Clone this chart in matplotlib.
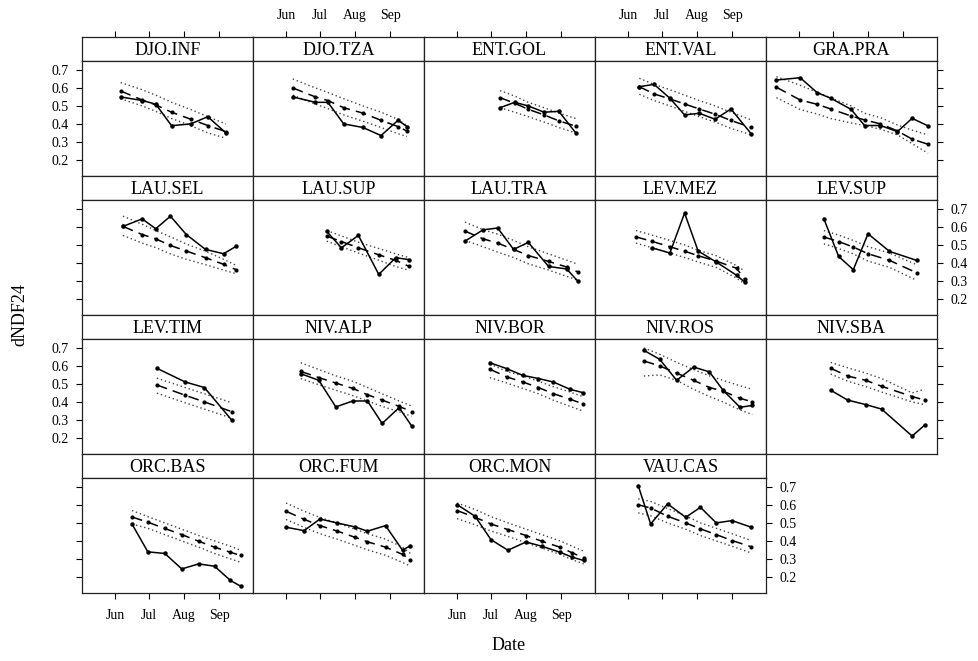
import matplotlib
matplotlib.use("Agg")
import matplotlib.pyplot as plt
import numpy as np
import pandas as pd

plt.rcParams['font.family'] = ['Liberation Serif', 'DejaVu Serif']

# ---- data (site panels, lattice style) ----
sites = ['DJO.INF', 'DJO.TZA', 'ENT.GOL', 'ENT.VAL', 'GRA.PRA',
         'LAU.SEL', 'LAU.SUP', 'LAU.TRA', 'LEV.MEZ', 'LEV.SUP',
         'LEV.TIM', 'NIV.ALP', 'NIV.BOR', 'NIV.ROS', 'NIV.SBA',
         'ORC.BAS', 'ORC.FUM', 'ORC.MON', 'VAU.CAS']

dates = {
    'DJO.INF': ['06-06', '06-25', '07-07', '07-21', '08-07', '08-22', '09-07'],
    'DJO.TZA': ['06-07', '06-27', '07-08', '07-22', '08-08', '08-24', '09-08', '09-16'],
    'ENT.GOL': ['07-09', '07-22', '08-03', '08-17', '08-30', '09-14'],
    'ENT.VAL': ['06-11', '06-24', '07-08', '07-21', '08-03', '08-17', '08-31', '09-18'],
    'GRA.PRA': ['05-12', '06-02', '06-17', '06-29', '07-17', '07-29', '08-12', '08-27', '09-09', '09-23'],
    'LAU.SEL': ['06-08', '06-25', '07-07', '07-20', '08-03', '08-20', '09-05', '09-16'],
    'LAU.SUP': ['07-07', '07-20', '08-04', '08-22', '09-06', '09-18'],
    'LAU.TRA': ['06-08', '06-24', '07-07', '07-21', '08-03', '08-21', '09-06', '09-16'],
    'LEV.MEZ': ['06-08', '06-22', '07-08', '07-21', '08-02', '08-18', '09-05', '09-12'],
    'LEV.SUP': ['06-23', '07-06', '07-19', '08-01', '08-20', '09-13'],
    'LEV.TIM': ['07-08', '08-02', '08-19', '09-12'],
    'NIV.ALP': ['06-14', '06-30', '07-15', '07-30', '08-12', '08-25', '09-09', '09-20'],
    'NIV.BOR': ['06-30', '07-15', '07-29', '08-12', '08-25', '09-09', '09-20'],
    'NIV.ROS': ['06-15', '06-29', '07-14', '07-29', '08-12', '08-24', '09-08', '09-19'],
    'NIV.SBA': ['06-29', '07-14', '07-30', '08-13', '09-09', '09-20'],
    'ORC.BAS': ['06-16', '06-30', '07-15', '07-30', '08-14', '08-28', '09-11', '09-20'],
    'ORC.FUM': ['06-01', '06-17', '07-01', '07-16', '08-01', '08-12', '08-28', '09-12', '09-19'],
    'ORC.MON': ['06-01', '06-17', '07-01', '07-16', '08-01', '08-15', '08-31', '09-11', '09-21'],
    'VAU.CAS': ['06-10', '06-21', '07-06', '07-22', '08-04', '08-18', '09-01', '09-18'],
}

observed = {
    'DJO.INF': [0.55, 0.53, 0.51, 0.39, 0.40, 0.44, 0.35],
    'DJO.TZA': [0.55, 0.52, 0.52, 0.40, 0.38, 0.335, 0.42, 0.385],
    'ENT.GOL': [0.49, 0.52, 0.50, 0.465, 0.47, 0.35],
    'ENT.VAL': [0.607, 0.62, 0.543, 0.45, 0.459, 0.426, 0.483, 0.344],
    'GRA.PRA': [0.644, 0.657, 0.574, 0.543, 0.481, 0.391, 0.391, 0.357, 0.431, 0.389],
    'LAU.SEL': [0.603, 0.645, 0.59, 0.66, 0.558, 0.475, 0.451, 0.492],
    'LAU.SUP': [0.575, 0.484, 0.553, 0.336, 0.429, 0.418],
    'LAU.TRA': [0.521, 0.584, 0.594, 0.475, 0.514, 0.38, 0.366, 0.297],
    'LEV.MEZ': [np.nan, 0.484, 0.455, 0.677, 0.466, 0.405, 0.331, 0.294],
    'LEV.SUP': [0.645, 0.436, 0.362, 0.562, 0.464, 0.414],
    'LEV.TIM': [0.587, 0.511, 0.48, 0.30],
    'NIV.ALP': [0.557, 0.52, 0.372, 0.405, 0.405, 0.28, 0.368, 0.267],
    'NIV.BOR': [0.618, 0.585, 0.548, 0.53, 0.511, 0.47, 0.452],
    'NIV.ROS': [0.687, 0.637, 0.52, 0.594, 0.567, 0.465, 0.37, 0.38],
    'NIV.SBA': [0.465, 0.41, 0.385, 0.36, 0.21, 0.27],
    'ORC.BAS': [0.494, 0.339, 0.33, 0.244, 0.272, 0.259, 0.18, 0.148],
    'ORC.FUM': [0.476, 0.457, 0.522, 0.50, 0.478, 0.454, 0.485, 0.348, 0.374],
    'ORC.MON': [0.602, 0.537, 0.407, 0.348, 0.394, 0.37, 0.337, 0.309, 0.291],
    'VAU.CAS': [0.708, 0.494, 0.606, 0.531, 0.587, 0.50, 0.513, 0.476],
}

fitted = {
    'DJO.INF': [0.583, 0.533, 0.506, 0.465, 0.426, 0.391, 0.357],
    'DJO.TZA': [0.60, 0.55, 0.53, 0.49, 0.46, 0.42, 0.385, 0.36],
    'ENT.GOL': [0.546, 0.515, 0.481, 0.45, 0.417, 0.387],
    'ENT.VAL': [0.607, 0.567, 0.539, 0.511, 0.483, 0.454, 0.419, 0.38],
    'GRA.PRA': [0.604, 0.533, 0.509, 0.483, 0.444, 0.422, 0.40, 0.361, 0.315, 0.287],
    'LAU.SEL': [0.603, 0.558, 0.534, 0.497, 0.466, 0.429, 0.392, 0.362],
    'LAU.SUP': [0.549, 0.519, 0.484, 0.445, 0.414, 0.38],
    'LAU.TRA': [0.577, 0.534, 0.51, 0.475, 0.441, 0.408, 0.377, 0.349],
    'LEV.MEZ': [0.545, 0.52, 0.49, 0.465, 0.44, 0.41, 0.37, 0.31],
    'LEV.SUP': [0.544, 0.519, 0.488, 0.451, 0.414, 0.345],
    'LEV.TIM': [0.494, 0.437, 0.40, 0.346],
    'NIV.ALP': [0.57, 0.535, 0.505, 0.475, 0.44, 0.41, 0.375, 0.346],
    'NIV.BOR': [0.582, 0.539, 0.511, 0.48, 0.446, 0.415, 0.39],
    'NIV.ROS': [0.628, 0.60, 0.56, 0.52, 0.48, 0.46, 0.42, 0.40],
    'NIV.SBA': [0.587, 0.544, 0.52, 0.487, 0.43, 0.41],
    'ORC.BAS': [0.533, 0.504, 0.469, 0.435, 0.398, 0.365, 0.337, 0.319],
    'ORC.FUM': [0.565, 0.52, 0.485, 0.455, 0.42, 0.395, 0.365, 0.325, 0.295],
    'ORC.MON': [0.569, 0.531, 0.494, 0.463, 0.43, 0.398, 0.365, 0.333, 0.306],
    'VAU.CAS': [0.601, 0.583, 0.537, 0.50, 0.467, 0.435, 0.402, 0.367],
}

upper = {
    'DJO.INF': [0.63, 0.59, 0.56, 0.52, 0.48, 0.44, 0.40],
    'DJO.TZA': [0.65, 0.60, 0.575, 0.54, 0.50, 0.465, 0.425, 0.39],
    'ENT.GOL': [0.585, 0.555, 0.52, 0.49, 0.46, 0.43],
    'ENT.VAL': [0.654, 0.62, 0.59, 0.56, 0.53, 0.50, 0.465, 0.422],
    'GRA.PRA': [0.663, 0.615, 0.576, 0.545, 0.50, 0.459, 0.435, 0.394, 0.365, 0.339],
    'LAU.SEL': [0.66, 0.615, 0.58, 0.545, 0.505, 0.465, 0.42, 0.386],
    'LAU.SUP': [0.58, 0.55, 0.515, 0.48, 0.45, 0.429],
    'LAU.TRA': [0.627, 0.585, 0.56, 0.525, 0.49, 0.45, 0.415, 0.392],
    'LEV.MEZ': [0.58, 0.555, 0.525, 0.50, 0.47, 0.44, 0.385, 0.355],
    'LEV.SUP': [0.58, 0.555, 0.525, 0.49, 0.455, 0.39],
    'LEV.TIM': [0.532, 0.48, 0.445, 0.396],
    'NIV.ALP': [0.618, 0.58, 0.545, 0.515, 0.48, 0.445, 0.405, 0.377],
    'NIV.BOR': [0.61, 0.57, 0.545, 0.515, 0.485, 0.455, 0.43],
    'NIV.ROS': [0.70, 0.665, 0.62, 0.58, 0.545, 0.52, 0.49, 0.47],
    'NIV.SBA': [0.62, 0.59, 0.56, 0.53, 0.45, 0.47],
    'ORC.BAS': [0.569, 0.535, 0.50, 0.465, 0.43, 0.40, 0.37, 0.348],
    'ORC.FUM': [0.611, 0.565, 0.53, 0.50, 0.465, 0.44, 0.41, 0.365, 0.33],
    'ORC.MON': [0.611, 0.575, 0.535, 0.50, 0.465, 0.435, 0.40, 0.37, 0.343],
    'VAU.CAS': [0.634, 0.62, 0.58, 0.54, 0.50, 0.47, 0.44, 0.402],
}

lower = {
    'DJO.INF': [0.54, 0.50, 0.47, 0.43, 0.39, 0.35, 0.32],
    'DJO.TZA': [0.56, 0.51, 0.485, 0.45, 0.415, 0.38, 0.345, 0.33],
    'ENT.GOL': [0.49, 0.465, 0.44, 0.41, 0.38, 0.35],
    'ENT.VAL': [0.565, 0.53, 0.50, 0.47, 0.44, 0.41, 0.375, 0.339],
    'GRA.PRA': [0.546, 0.48, 0.455, 0.43, 0.405, 0.391, 0.37, 0.339, 0.29, 0.237],
    'LAU.SEL': [0.553, 0.51, 0.485, 0.45, 0.42, 0.39, 0.36, 0.34],
    'LAU.SUP': [0.521, 0.49, 0.455, 0.415, 0.38, 0.358],
    'LAU.TRA': [0.525, 0.49, 0.46, 0.43, 0.395, 0.36, 0.325, 0.303],
    'LEV.MEZ': [0.51, 0.485, 0.455, 0.43, 0.405, 0.375, 0.315, 0.284],
    'LEV.SUP': [0.506, 0.48, 0.45, 0.41, 0.375, 0.303],
    'LEV.TIM': [0.449, 0.395, 0.36, 0.31],
    'NIV.ALP': [0.53, 0.495, 0.465, 0.435, 0.405, 0.375, 0.345, 0.32],
    'NIV.BOR': [0.535, 0.505, 0.475, 0.445, 0.41, 0.375, 0.35],
    'NIV.ROS': [0.544, 0.55, 0.52, 0.47, 0.43, 0.40, 0.355, 0.33],
    'NIV.SBA': [0.555, 0.515, 0.485, 0.455, 0.40, 0.385],
    'ORC.BAS': [0.494, 0.47, 0.435, 0.40, 0.365, 0.33, 0.30, 0.281],
    'ORC.FUM': [0.519, 0.475, 0.44, 0.41, 0.375, 0.35, 0.32, 0.28, 0.259],
    'ORC.MON': [0.524, 0.49, 0.455, 0.425, 0.39, 0.36, 0.325, 0.295, 0.272],
    'VAU.CAS': [0.556, 0.54, 0.50, 0.465, 0.43, 0.40, 0.37, 0.333],
}

month_ticks = ['06-01', '07-01', '08-01', '09-01']
month_labels = ['Jun', 'Jul', 'Aug', 'Sep']
y_ticks = [0.2, 0.3, 0.4, 0.5, 0.6, 0.7]


def doy(mmdd):
    # day of year in a non-leap year
    return pd.to_datetime(['2011-' + s for s in mmdd]).dayofyear.values.astype(float)


W, H = 979, 661
fig = plt.figure(figsize=(W / 100, H / 100), dpi=100)


def add_px_axes(x0, y0, w, h):
    return fig.add_axes([x0 / W, 1 - (y0 + h) / H, w / W, h / H])


xlim = (122.8, 274.0)
ylim = (0.11, 0.75)
col_w, strip_h, panel_h, pitch = 171, 24, 115, 139
left0, top0 = 82, 61
frame_c = '#222222'
tick_len = 4.5
n_rows = 4

for idx, name in enumerate(sites):
    r, c = divmod(idx, 5)
    x0 = left0 + col_w * c
    ptop = top0 + pitch * r

    # strip
    sax = add_px_axes(x0, ptop - strip_h, col_w, strip_h)
    sax.set_xlim(*xlim)
    sax.set_ylim(0, 1)
    sax.text(0.5, 0.45, name, ha='center', va='center', fontsize=13,
             transform=sax.transAxes)
    sax.set_yticks([])
    if r == 0:
        sax.set_xticks(doy(month_ticks))
        sax.set_xticklabels(month_labels)
        sax.tick_params(axis='x', top=True, bottom=False, labeltop=(c % 2 == 1),
                        labelbottom=False, direction='out', length=tick_len,
                        width=0.8, labelsize=10, pad=6)
    else:
        sax.set_xticks([])
    for s in sax.spines.values():
        s.set_color(frame_c)
        s.set_linewidth(0.9)

    # panel
    ax = add_px_axes(x0, ptop, col_w, panel_h)
    x = doy(dates[name])
    ax.plot(x, upper[name], color='#444444', ls=(0, (1, 2)), lw=1.0)
    ax.plot(x, lower[name], color='#444444', ls=(0, (1, 2)), lw=1.0)
    ax.plot(x, fitted[name], color='black', ls=(0, (7, 4)), lw=1.1,
            marker='o', ms=2.0)
    ax.plot(x, observed[name], color='black', ls='-', lw=1.1,
            marker='o', ms=2.2)
    ax.set_xlim(*xlim)
    ax.set_ylim(*ylim)

    last_in_row = (c == 4) or (idx == len(sites) - 1)
    ax.set_yticks(y_ticks)
    ax.set_yticklabels([f'{v:.1f}' for v in y_ticks])
    ax.tick_params(axis='y', left=(c == 0), labelleft=(c == 0 and r % 2 == 0),
                   right=last_in_row, labelright=(last_in_row and r % 2 == 1),
                   direction='out', length=tick_len, width=0.8, labelsize=10, pad=5)

    bottom_row = (r == n_rows - 1)
    ax.set_xticks(doy(month_ticks))
    ax.set_xticklabels(month_labels)
    ax.tick_params(axis='x', bottom=bottom_row, labelbottom=(bottom_row and c % 2 == 0),
                   top=False, labeltop=False, direction='out', length=tick_len,
                   width=0.8, labelsize=10, pad=7)
    for s in ax.spines.values():
        s.set_color(frame_c)
        s.set_linewidth(0.9)

fig.text(509 / W, 1 - 645 / H, 'Date', ha='center', va='center', fontsize=13)
fig.text(20 / W, 1 - 315 / H, 'dNDF24', ha='center', va='center', fontsize=13,
         rotation=90)

fig.savefig('out.png', dpi=100)
